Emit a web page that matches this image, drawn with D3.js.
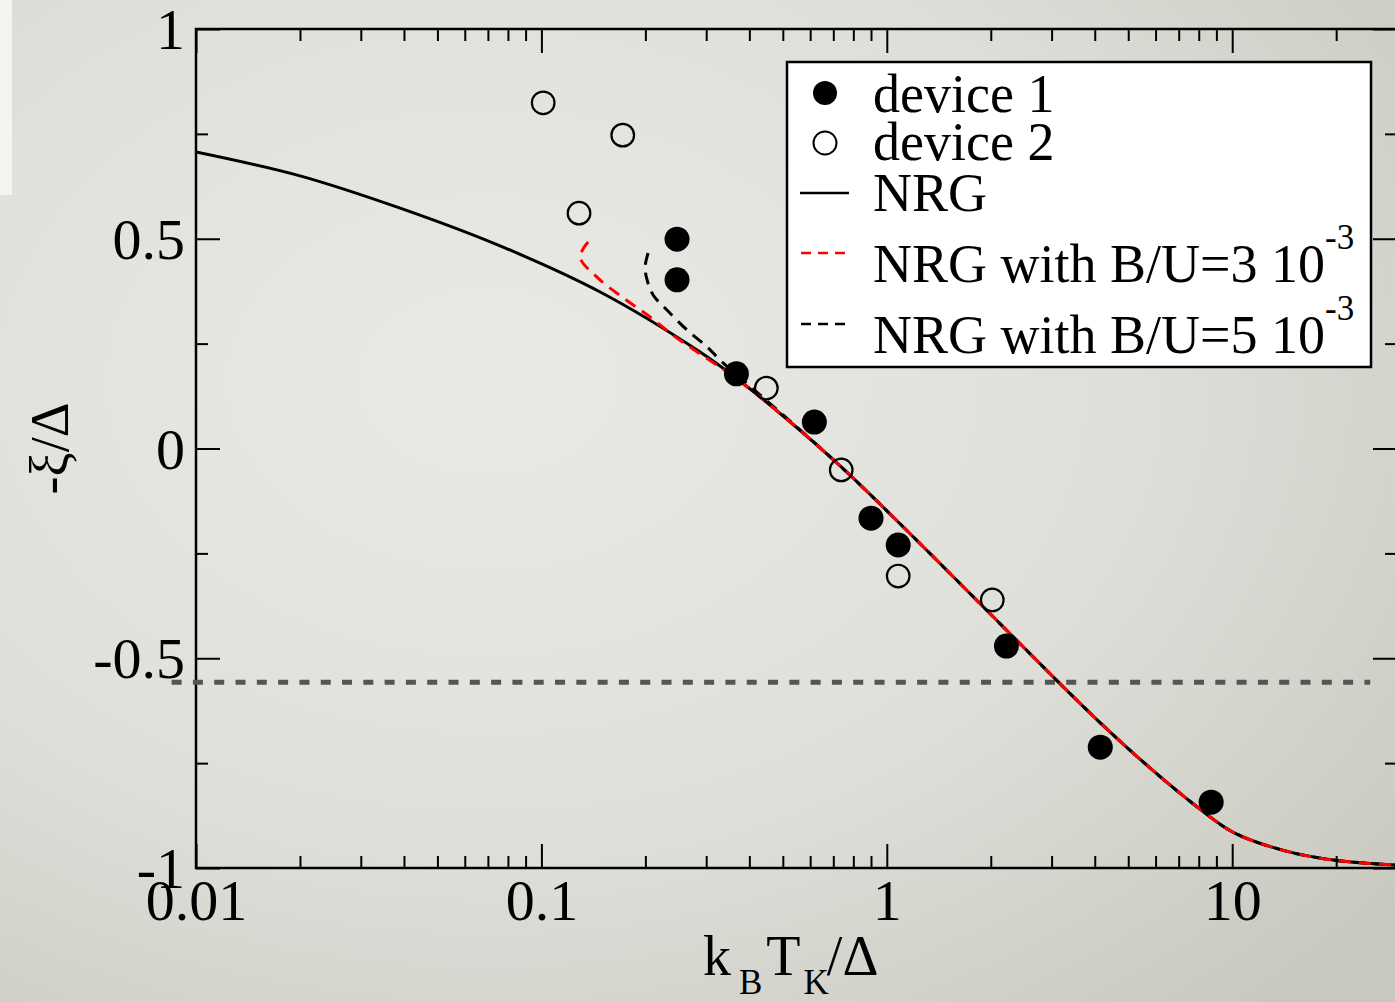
<!DOCTYPE html>
<html>
<head>
<meta charset="utf-8">
<script src="https://cdn.jsdelivr.net/npm/d3@7"></script>
<style>
  html, body { margin: 0; padding: 0; background: #e4e4e0; }
  svg { display: block; }
  text { font-family: "Liberation Serif", "Times New Roman", serif; fill: #000; }
</style>
</head>
<body>
<svg id="chart" width="1395" height="1002"></svg>
<script>
// Measured charge-transfer ratio -xi/Delta versus k_B T_K / Delta
const device1X = [0.247, 0.247, 0.367, 0.617, 0.90, 1.079, 2.22, 4.15, 8.69];
const device1Y = [0.499, 0.402, 0.178, 0.063, -0.166, -0.230, -0.471, -0.712, -0.843];

const device2X = [0.1012, 0.172, 0.1285, 0.448, 0.738, 1.079, 2.02];
const device2Y = [0.824, 0.747, 0.561, 0.144, -0.051, -0.304, -0.361];

// NRG curve at zero field
const nrgX = [0.01, 0.02, 0.039, 0.0759, 0.148, 0.288, 0.366, 0.501, 0.738, 1.094, 2.13, 3.115, 4.15, 5.79, 8.08, 10.07, 14.06, 19.6, 29.7];
const nrgY = [0.707, 0.650, 0.573, 0.483, 0.373, 0.230, 0.168, 0.0775, -0.044, -0.180, -0.418, -0.554, -0.654, -0.762, -0.860, -0.915, -0.958, -0.981, -0.993];

// NRG curve with B/U = 3e-3
const nrgB3X = [0.1365, 0.1295, 0.1459, 0.1747, 0.2064, 0.2439, 0.288, 0.366, 0.501, 0.738, 1.094, 2.13, 3.115, 4.15, 5.79, 8.08, 10.07, 14.06, 19.6, 29.7];
const nrgB3Y = [0.492, 0.4565, 0.406, 0.356, 0.3135, 0.266, 0.226, 0.167, 0.0775, -0.044, -0.180, -0.418, -0.554, -0.654, -0.762, -0.860, -0.915, -0.958, -0.981, -0.993];

// NRG curve with B/U = 5e-3
const nrgB5X = [0.2037, 0.1996, 0.2023, 0.2106, 0.231, 0.2644, 0.302, 0.329, 0.410, 0.501, 0.738, 1.094, 2.13, 3.115, 4.15, 5.79, 8.08, 10.07, 14.06, 19.6, 29.7];
const nrgB5Y = [0.466, 0.433, 0.402, 0.366, 0.330, 0.282, 0.242, 0.211, 0.142, 0.080, -0.044, -0.180, -0.418, -0.554, -0.654, -0.762, -0.860, -0.915, -0.958, -0.981, -0.993];

// Horizontal reference level
const refLevelY = -0.557;
const refLevelX = [0.0085, 25.1];

const xTickValues = [0.01, 0.1, 1, 10];
const xTickLabels = ["0.01", "0.1", "1", "10"];
const yTickValues = [1, 0.5, 0, -0.5, -1];
const yTickLabels = ["1", "0.5", "0", "-0.5", "-1"];

const legendLabels = ["device 1", "device 2", "NRG", "NRG with B/U=3 10", "NRG with B/U=5 10"];

const svg = d3.select("#chart");
const W = 1395, H = 1002;
const m = { left: 196, top: 29, right: 1397, bottom: 868 };

// background paper
const defs = svg.append("defs");
const grad = defs.append("radialGradient").attr("id", "paper")
  .attr("cx", "35%").attr("cy", "38%").attr("r", "85%");
grad.append("stop").attr("offset", "0").attr("stop-color", "#e9e9e6");
grad.append("stop").attr("offset", "0.55").attr("stop-color", "#dfdfda");
grad.append("stop").attr("offset", "1").attr("stop-color", "#c8c8bf");
svg.append("rect").attr("width", W).attr("height", H).attr("fill", "url(#paper)");
svg.append("rect").attr("x", 0).attr("y", 0).attr("width", 12).attr("height", 195).attr("fill", "#f3f3f1");

defs.append("clipPath").attr("id", "plotClip")
  .append("rect").attr("x", m.left).attr("y", m.top)
  .attr("width", m.right - m.left).attr("height", m.bottom - m.top);

const x = d3.scaleLog().domain([0.01, 30]).range([m.left, m.right]);
const y = d3.scaleLinear().domain([-1, 1]).range([m.bottom, m.top]);

// minor/major tick values
const xMajor = [0.01, 0.1, 1, 10];
const xMinor = [];
[0.01, 0.1, 1, 10].forEach(d => { for (let k = 2; k <= 9; k++) { const v = d * k; if (v <= 30) xMinor.push(v); } });
const yMajor = [-1, -0.5, 0, 0.5, 1];
const yMinor = [-0.75, -0.25, 0.25, 0.75];

const MAJ = 24, MIN = 12;
const axisG = svg.append("g");

function tickAxis(axisFn, scale, values, size, tx, ty) {
  const a = axisFn(scale).tickValues(values).tickSize(size).tickFormat("");
  const g = axisG.append("g").attr("transform", `translate(${tx},${ty})`).call(a);
  g.select(".domain").remove();
  g.selectAll(".tick line").attr("stroke", "#000").attr("stroke-width", 2);
  return g;
}
// ticks drawn inward on all four sides
tickAxis(d3.axisTop, x, xMajor, MAJ, 0, m.bottom);
tickAxis(d3.axisTop, x, xMinor, MIN, 0, m.bottom);
tickAxis(d3.axisBottom, x, xMajor, MAJ, 0, m.top);
tickAxis(d3.axisBottom, x, xMinor, MIN, 0, m.top);
tickAxis(d3.axisRight, y, yMajor, MAJ, m.left, 0);
tickAxis(d3.axisRight, y, yMinor, MIN, m.left, 0);
tickAxis(d3.axisLeft, y, yMajor, MAJ, m.right, 0);
tickAxis(d3.axisLeft, y, yMinor, MIN, m.right, 0);

// frame
svg.append("rect").attr("x", m.left).attr("y", m.top)
  .attr("width", m.right - m.left).attr("height", m.bottom - m.top)
  .attr("fill", "none").attr("stroke", "#000").attr("stroke-width", 2.5);

// tick labels
const xAxisLabels = d3.axisBottom(x).tickValues(xTickValues).tickSize(0).tickPadding(0)
  .tickFormat((d, i) => xTickLabels[i]);
const xl = svg.append("g").attr("transform", `translate(0,${m.bottom})`).call(xAxisLabels);
xl.select(".domain").remove();
xl.selectAll("text").attr("font-size", 58).attr("dy", null).attr("y", 52)
  .style("font-family", "Liberation Serif").attr("fill", "#000");

const yAxisLabels = d3.axisLeft(y).tickValues(yTickValues).tickSize(0).tickPadding(11)
  .tickFormat((d, i) => yTickLabels[i]);
const yl = svg.append("g").attr("transform", `translate(${m.left},0)`).call(yAxisLabels);
yl.select(".domain").remove();
yl.selectAll("text").attr("font-size", 58).attr("dy", "0.34em")
  .style("font-family", "Liberation Serif").attr("fill", "#000");

// axis titles
const xt = svg.append("text").attr("x", 703).attr("y", 975).attr("font-size", 56);
xt.append("tspan").text("k");
xt.append("tspan").attr("font-size", 35).attr("dy", 19).attr("dx", 8).text("B");
xt.append("tspan").attr("dy", -19).attr("dx", 4).text("T");
xt.append("tspan").attr("font-size", 35).attr("dy", 19).attr("dx", 3).text("K");
xt.append("tspan").attr("dy", -19).attr("dx", -2).text("/Δ");

svg.append("text").attr("transform", `translate(68,${y(0)}) rotate(-90)`)
  .attr("text-anchor", "middle").attr("font-size", 54).text("-ξ/Δ");

// reference level
svg.append("line")
  .attr("x1", x(refLevelX[0])).attr("x2", x(refLevelX[1]))
  .attr("y1", y(refLevelY)).attr("y2", y(refLevelY))
  .attr("stroke", "#555").attr("stroke-width", 5).attr("stroke-dasharray", "10,11.3");

// curves
const plot = svg.append("g").attr("clip-path", "url(#plotClip)");
const line = d3.line().x(d => x(d[0])).y(d => y(d[1])).curve(d3.curveCatmullRom.alpha(0.5));
const zip = (a, b) => a.map((v, i) => [v, b[i]]);

plot.append("path").datum(zip(nrgX, nrgY)).attr("d", line)
  .attr("fill", "none").attr("stroke", "#000").attr("stroke-width", 3);
plot.append("path").datum(zip(nrgB5X, nrgB5Y)).attr("d", line)
  .attr("fill", "none").attr("stroke", "#000").attr("stroke-width", 3).attr("stroke-dasharray", "12,8");
plot.append("path").datum(zip(nrgB3X, nrgB3Y)).attr("d", line)
  .attr("fill", "none").attr("stroke", "#f00").attr("stroke-width", 3).attr("stroke-dasharray", "12,8");

// data points
plot.selectAll("circle.d2").data(zip(device2X, device2Y)).join("circle")
  .attr("class", "d2").attr("cx", d => x(d[0])).attr("cy", d => y(d[1])).attr("r", 11.3)
  .attr("fill", "none").attr("stroke", "#000").attr("stroke-width", 2.2);
plot.selectAll("circle.d1").data(zip(device1X, device1Y)).join("circle")
  .attr("class", "d1").attr("cx", d => x(d[0])).attr("cy", d => y(d[1])).attr("r", 12.5)
  .attr("fill", "#000");

// legend
const lg = svg.append("g");
lg.append("rect").attr("x", 787).attr("y", 62).attr("width", 584).attr("height", 305)
  .attr("fill", "#fff").attr("stroke", "#000").attr("stroke-width", 2.5);
const rowBase = [112, 160, 211, 282, 353];
const rowMid = [93, 143, 193, 253, 324];
lg.append("circle").attr("cx", 825).attr("cy", rowMid[0]).attr("r", 12).attr("fill", "#000");
lg.append("circle").attr("cx", 825).attr("cy", rowMid[1]).attr("r", 11.5)
  .attr("fill", "none").attr("stroke", "#000").attr("stroke-width", 2);
lg.append("line").attr("x1", 800).attr("x2", 849).attr("y1", rowMid[2]).attr("y2", rowMid[2])
  .attr("stroke", "#000").attr("stroke-width", 2.5);
lg.append("line").attr("x1", 801).attr("x2", 849).attr("y1", rowMid[3]).attr("y2", rowMid[3])
  .attr("stroke", "#f00").attr("stroke-width", 2.5).attr("stroke-dasharray", "10,7");
lg.append("line").attr("x1", 801).attr("x2", 849).attr("y1", rowMid[4]).attr("y2", rowMid[4])
  .attr("stroke", "#000").attr("stroke-width", 2.5).attr("stroke-dasharray", "10,7");
legendLabels.forEach((t, i) => {
  const tx = lg.append("text").attr("x", 873).attr("y", rowBase[i]).attr("font-size", 54).text(t);
  if (i >= 3) {
    tx.append("tspan").attr("font-size", 35).attr("dy", -33).text("-3");
  }
});
</script>
</body>
</html>
